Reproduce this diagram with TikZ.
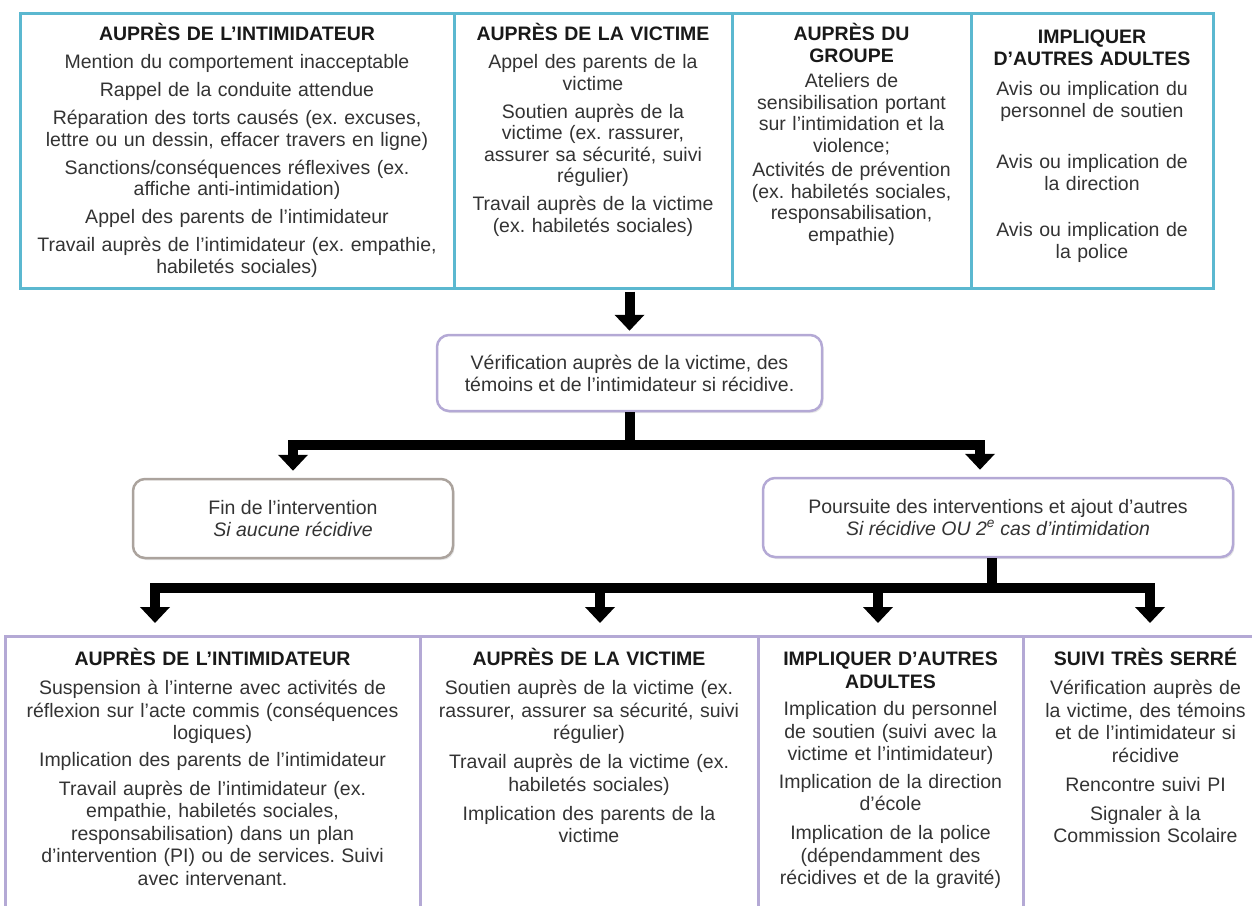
\documentclass[tikz,border=0pt]{standalone}
\usepackage{fontspec}
\setmainfont{Liberation Sans}
\usetikzlibrary{arrows.meta,positioning,calc,shadows}
\definecolor{cyanline}{HTML}{5BB8D0}
\definecolor{lavline}{HTML}{B4A9D5}
\definecolor{greyline}{HTML}{ABA39D}
\definecolor{inkgray}{HTML}{333333}
\tikzset{
  cellt/.style={draw=cyanline, line width=3pt, inner sep=0pt},
  cellb/.style={draw=lavline, line width=3pt, inner sep=0pt},
  txt/.style={align=center, inner sep=0pt, text=inkgray, font=\fontsize{19.5pt}{21.5pt}\selectfont},
  txtb/.style={txt, font=\fontsize{19.5pt}{22.5pt}\selectfont},
  rbox/.style={draw=lavline, line width=2.5pt, rounded corners=12pt, fill=white, align=center, inner sep=0pt, text=inkgray,
    font=\fontsize{19.5pt}{22pt}\selectfont, drop shadow={shadow xshift=1.5pt, shadow yshift=-2pt, opacity=.2, fill=gray}},
  fat/.style={line width=10pt, draw=black},
  fatar/.style={fat, -{Triangle[width=29pt,length=16pt]}},
}
\newcommand{\ttl}[1]{\rule{0pt}{19pt}\textbf{\color{black!90}#1}}
\frenchspacing

\begin{document}
\begin{tikzpicture}[x=1pt, y=-1pt]
  \useasboundingbox (0,0) rectangle (1252,905);
  % premier niveau
  \node[cellt, minimum width=434pt, minimum height=275pt] (t1) at (237,150.5) {};
  \node[cellt, minimum width=278pt, minimum height=275pt] (t2) at (593,150.5) {};
  \node[cellt, minimum width=239pt, minimum height=275pt] (t3) at (851.5,150.5) {};
  \node[cellt, minimum width=242pt, minimum height=275pt] (t4) at (1092,150.5) {};
  \node[txt, text width=428pt, below=10pt of t1.north] (t1txt) {\ttl{AUPRÈS DE L’INTIMIDATEUR}\\[6.5pt]
    Mention du comportement inacceptable\\[6.5pt]
    Rappel de la conduite attendue\\[6.5pt]
    Réparation des torts causés (ex. excuses,\\ lettre ou un dessin, effacer travers en ligne)\\[6.5pt]
    Sanctions/conséquences réflexives (ex.\\ affiche anti-intimidation)\\[6.5pt]
    Appel des parents de l'intimidateur\\[6.5pt]
    Travail auprès de l'intimidateur (ex. empathie,\\ habiletés sociales)};
  \node[txt, text width=272pt, below=10pt of t2.north] (t2txt) {\ttl{AUPRÈS DE LA VICTIME}\\[6.5pt]
    Appel des parents de la\\ victime\\[6.5pt]
    Soutien auprès de la\\ victime (ex. rassurer,\\ assurer sa sécurité, suivi\\ régulier)\\[6.5pt]
    Travail auprès de la victime\\ (ex. habiletés sociales)};
  \node[txt, text width=233pt, below=10pt of t3.north] (t3txt) {\ttl{AUPRÈS DU\\ GROUPE}\\[4pt]
    Ateliers de\\ sensibilisation portant\\ sur l'intimidation et la\\ violence;\\[3pt]
    Activités de prévention\\ (ex. habiletés sociales,\\ responsabilisation,\\ empathie)};
  \node[txt, text width=236pt, below=13pt of t4.north] (t4txt) {\ttl{IMPLIQUER\\ D’AUTRES ADULTES}\\[9pt]
    Avis ou implication du\\ personnel de soutien\\[30pt]
    Avis ou implication de\\ la direction\\[25pt]
    Avis ou implication de\\ la police};

  % verification et suites
  \node[rbox, minimum width=385pt, minimum height=76pt] (verif) at (629.5,373)
    {Vérification auprès de la victime, des\\ témoins et de l'intimidateur si récidive.};
  \node[rbox, draw=greyline, minimum width=320pt, minimum height=79pt] (fin) at (293,518.5)
    {Fin de l'intervention\\ \textit{Si aucune récidive}};
  \node[rbox, minimum width=470pt, minimum height=79pt] (pour) at (998,517.5)
    {Poursuite des interventions et ajout d'autres\\ \textit{Si récidive OU 2\textsuperscript{e} cas d'intimidation}};

  \draw[fatar, shorten <=2pt, shorten >=3pt] (t2.south -| verif.north) -- (verif.north);
  \draw[fat] (verif.south) -- ++(0,33) coordinate (split1);
  \draw[fatar, shorten >=7pt] (split1) -| (fin.north);
  \draw[fatar, shorten >=7pt] (split1) -| ($(pour.north)+(-18,0)$);

  % second niveau
  \node[cellb, minimum width=415pt, minimum height=284pt] (b1) at (212.5,778) {};
  \node[cellb, minimum width=338pt, minimum height=284pt] (b2) at (589,778) {};
  \node[cellb, minimum width=265pt, minimum height=284pt] (b3) at (890.5,778) {};
  \node[cellb, minimum width=245pt, minimum height=284pt] (b4) at (1145.5,778) {};
  \coordinate (in1) at (155,636);
  \coordinate (in2) at (600,636);
  \coordinate (in3) at (878,636);
  \coordinate (in4) at (1150,636);

  \draw[fat] ($(pour.south)+(-6,0)$) -- ++(0,30) coordinate (split2);
  \foreach \k in {in1,in2,in3,in4}
    \draw[fatar, shorten >=13pt] (split2) -| (\k);

  \node[txtb, text width=409pt, below=12pt of b1.north] (b1txt) {\ttl{AUPRÈS DE L’INTIMIDATEUR}\\[6.5pt]
    Suspension à l'interne avec activités de\\ réflexion sur l'acte commis (conséquences\\ logiques)\\[4pt]
    Implication des parents de l'intimidateur\\[6.5pt]
    Travail auprès de l'intimidateur (ex.\\ empathie, habiletés sociales,\\ responsabilisation) dans un plan\\ d'intervention (PI) ou de services. Suivi\\ avec intervenant.};
  \node[txtb, text width=332pt, below=12pt of b2.north] (b2txt) {\ttl{AUPRÈS DE LA VICTIME}\\[6.5pt]
    Soutien auprès de la victime (ex.\\ rassurer, assurer sa sécurité, suivi\\ régulier)\\[6.5pt]
    Travail auprès de la victime (ex.\\ habiletés sociales)\\[6.5pt]
    Implication des parents de la\\ victime};
  \node[txtb, text width=259pt, below=12pt of b3.north] (b3txt) {\ttl{IMPLIQUER D’AUTRES\\ ADULTES}\\[5pt]
    Implication du personnel\\ de soutien (suivi avec la\\ victime et l'intimidateur)\\[5pt]
    Implication de la direction\\ d'école\\[6.5pt]
    Implication de la police\\ (dépendamment des\\ récidives et de la gravité)};
  \node[txtb, text width=239pt, below=12pt of b4.north] (b4txt) {\ttl{SUIVI TRÈS SERRÉ}\\[6.5pt]
    Vérification auprès de\\ la victime, des témoins\\ et de l'intimidateur si\\ récidive\\[6.5pt]
    Rencontre suivi PI\\[6.5pt]
    Signaler à la\\ Commission Scolaire};
\end{tikzpicture}
\end{document}
